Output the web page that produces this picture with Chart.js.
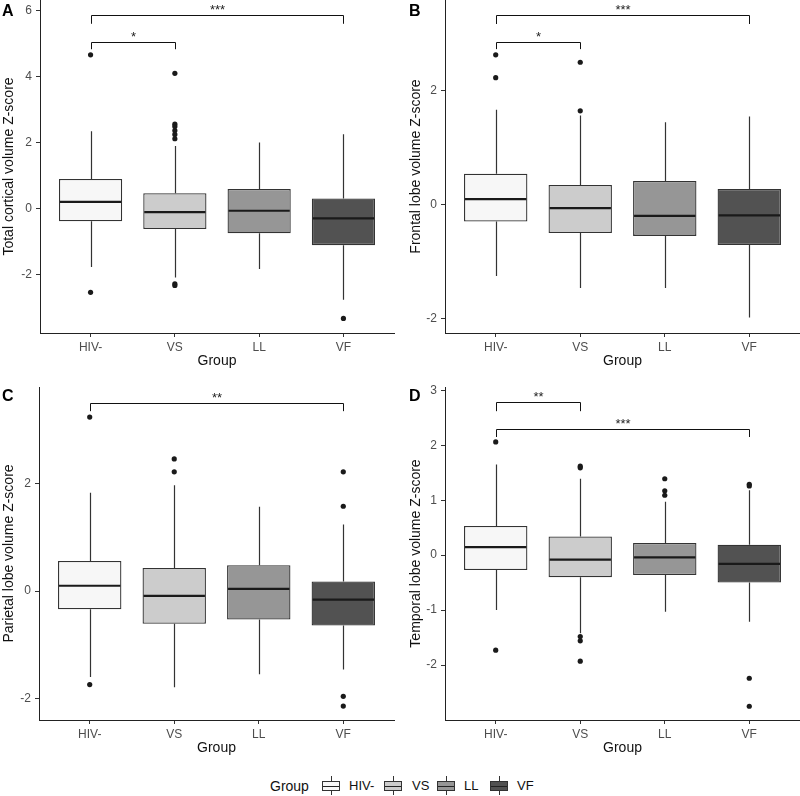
<!DOCTYPE html>
<html>
<head>
<meta charset="utf-8">
<script src="https://cdn.jsdelivr.net/npm/chart.js@4.4.1/dist/chart.umd.min.js"></script>
<style>
  body { margin: 0; background: #fff; font-family: "Liberation Sans", Arial, sans-serif; }
  #wrap { position: relative; width: 800px; height: 796px; overflow: hidden; }
  .pane { position: absolute; }
  .tag { position: absolute; font-weight: bold; font-size: 16px; line-height: 16px; color: #000; }
  .leg { position: absolute; top: 778px; font-size: 13px; line-height: 16px; color: #111; }
  .key { position: absolute; top: 776px; width: 18px; height: 19px; }
  .key .wh { position: absolute; left: 8.5px; top: 0; width: 1px; height: 19px; background: #333; }
  .key .bx { position: absolute; left: 0; top: 4.5px; width: 16px; height: 8px; border: 1px solid #333; }
  .key .md { position: absolute; left: 0; top: 4px; width: 16px; height: 1px; background: #222; }
</style>
</head>
<body>
<div id="wrap">
  <div class="pane" style="left:0;top:0;width:400px;height:370px"><canvas id="chartA"></canvas></div>
  <div class="pane" style="left:400px;top:0;width:400px;height:370px"><canvas id="chartB"></canvas></div>
  <div class="pane" style="left:0;top:370px;width:400px;height:387px"><canvas id="chartC"></canvas></div>
  <div class="pane" style="left:400px;top:370px;width:400px;height:387px"><canvas id="chartD"></canvas></div>
  <div class="tag" style="left:2px;top:3px">A</div>
  <div class="tag" style="left:409px;top:3px">B</div>
  <div class="tag" style="left:2px;top:388px">C</div>
  <div class="tag" style="left:409px;top:388px">D</div>
  <div id="legend"></div>
</div>
<script>
var groups = ['HIV-', 'VS', 'LL', 'VF'];
var fills = ['#f7f7f7', '#cccccc', '#969696', '#525252'];

// A - total cortical volume
var totalQ1 = [-0.39, -0.62, -0.75, -1.11];
var totalMed = [0.20, -0.11, -0.07, -0.30];
var totalQ3 = [0.89, 0.46, 0.59, 0.30];
var totalLow = [-1.77, -2.09, -1.83, -2.76];
var totalHigh = [2.34, 1.89, 2.00, 2.25];
var totalOut = [[4.65, -2.54], [4.09, 2.55, 2.48, 2.36, 2.24, 2.11, -2.28, -2.33], [], [-3.33]];
var totalTicks = [-2, 0, 2, 4, 6];

// B - frontal lobe
var frontQ1 = [-0.30, -0.50, -0.55, -0.71];
var frontMed = [0.093, -0.064, -0.20, -0.19];
var frontQ3 = [0.54, 0.34, 0.41, 0.27];
var frontLow = [-1.25, -1.46, -1.46, -1.98];
var frontHigh = [1.66, 1.56, 1.44, 1.54];
var frontOut = [[2.62, 2.22], [2.49, 1.64], [], []];
var frontTicks = [-2, 0, 2];

// C - parietal lobe
var parQ1 = [-0.34, -0.61, -0.53, -0.64];
var parMed = [0.10, -0.09, 0.04, -0.16];
var parQ3 = [0.56, 0.43, 0.48, 0.18];
var parLow = [-1.60, -1.79, -1.55, -1.46];
var parHigh = [1.83, 1.97, 1.57, 1.24];
var parOut = [[3.24, -1.74], [2.46, 2.22], [], [2.22, 1.58, -1.96, -2.14]];
var parTicks = [-2, 0, 2];

// D - temporal lobe
var tempQ1 = [-0.27, -0.40, -0.36, -0.50];
var tempMed = [0.145, -0.08, -0.04, -0.16];
var tempQ3 = [0.53, 0.34, 0.22, 0.19];
var tempLow = [-1.00, -1.42, -1.03, -1.21];
var tempHigh = [1.65, 1.39, 0.97, 1.18];
var tempOut = [[2.06, -1.73], [1.62, 1.59, -1.48, -1.56, -1.93], [1.39, 1.17, 1.09], [1.29, 1.26, -2.24, -2.75]];
var tempTicks = [-2, -1, 0, 1, 2, 3];

// brackets: [from, to, y, tip y, label]
var totalSig = [[1, 4, 5.86, 5.59, '***'], [1, 2, 5.05, 4.82, '*']];
var frontSig = [[1, 4, 3.32, 3.16, '***'], [1, 2, 2.85, 2.72, '*']];
var parSig = [[1, 4, 3.50, 3.35, '**']];
var tempSig = [[1, 2, 2.78, 2.62, '**'], [1, 4, 2.29, 2.15, '***']];

var FONT = '"Liberation Sans", Arial, sans-serif';

var boxPlugin = {
    id: 'boxbits',
    beforeDatasetsDraw: function(chart) {
        var p = chart.options.plugins.boxbits;
        var x = chart.scales.x, y = chart.scales.y, ctx = chart.ctx;
        ctx.save();
        ctx.strokeStyle = '#333';
        ctx.lineWidth = 1.2;
        for (var i = 0; i < groups.length; i++) {
            var px = Math.round(x.getPixelForValue(i + 1)) + 0.5;
            ctx.beginPath();
            ctx.moveTo(px, y.getPixelForValue(p.hi[i]));
            ctx.lineTo(px, y.getPixelForValue(p.q3[i]));
            ctx.moveTo(px, y.getPixelForValue(p.q1[i]));
            ctx.lineTo(px, y.getPixelForValue(p.lo[i]));
            ctx.stroke();
        }
        ctx.restore();
    },
    afterDatasetsDraw: function(chart) {
        var p = chart.options.plugins.boxbits;
        var x = chart.scales.x, y = chart.scales.y, ctx = chart.ctx;
        var half = (x.getPixelForValue(2) - x.getPixelForValue(1)) * 0.75 / 2;
        ctx.save();
        ctx.strokeStyle = '#1a1a1a';
        ctx.lineWidth = 2.2;
        for (var i = 0; i < groups.length; i++) {
            var px = x.getPixelForValue(i + 1);
            var py = y.getPixelForValue(p.med[i]);
            ctx.beginPath();
            ctx.moveTo(px - half + 1, py);
            ctx.lineTo(px + half - 1, py);
            ctx.stroke();
        }
        // significance brackets
        ctx.strokeStyle = '#111';
        ctx.lineWidth = 1;
        ctx.fillStyle = '#222';
        ctx.font = '13px ' + FONT;
        ctx.textAlign = 'center';
        ctx.textBaseline = 'alphabetic';
        p.sig.forEach(function(s) {
            var x1 = Math.round(x.getPixelForValue(s[0])) + 0.5;
            var x2 = Math.round(x.getPixelForValue(s[1])) + 0.5;
            var yb = Math.round(y.getPixelForValue(s[2])) + 0.5;
            var yt = y.getPixelForValue(s[3]);
            ctx.beginPath();
            ctx.moveTo(x1, yt);
            ctx.lineTo(x1, yb);
            ctx.lineTo(x2, yb);
            ctx.lineTo(x2, yt);
            ctx.stroke();
            ctx.fillText(s[4], (x1 + x2) / 2, yb - 2);
        });
        ctx.restore();
    }
};

function makePanel(id, title, q1, med, q3, lo, hi, out, yMin, yMax, yTicks, sig, yWidth, padTop, padRight, titlePad) {
    var outPts = [];
    out.forEach(function(vals, i) {
        vals.forEach(function(v) { outPts.push({x: i + 1, y: v}); });
    });
    var boxes = groups.map(function(g, i) { return {x: i + 1, y: [q1[i], q3[i]]}; });

    new Chart(document.getElementById(id), {
        type: 'bar',
        data: {
            datasets: [{
                type: 'scatter',
                data: outPts,
                pointRadius: 2.6,
                pointBackgroundColor: '#1a1a1a',
                pointBorderWidth: 0
            }, {
                data: boxes,
                backgroundColor: fills,
                borderColor: '#333',
                borderWidth: 1.3,
                borderSkipped: false,
                barPercentage: 0.75,
                categoryPercentage: 1,
                grouped: false
            }]
        },
        options: {
            responsive: true,
            maintainAspectRatio: false,
            animation: false,
            layout: { autoPadding: false, padding: { top: padTop, right: padRight, left: 0, bottom: 0 } },
            plugins: {
                legend: { display: false },
                tooltip: { enabled: false },
                boxbits: { q1: q1, med: med, q3: q3, lo: lo, hi: hi, sig: sig }
            },
            scales: {
                x: {
                    type: 'linear',
                    min: 0.4,
                    max: 4.6,
                    offset: false,
                    afterBuildTicks: function(s) { s.ticks = groups.map(function(g, i) { return {value: i + 1}; }); },
                    afterFit: function(s) { s.height = 37; },
                    ticks: {
                        callback: function(v) { return groups[v - 1]; },
                        color: '#4d4d4d',
                        font: { size: 12, family: FONT },
                        padding: 3,
                        maxRotation: 0,
                        autoSkip: false
                    },
                    grid: { display: true, offset: false, drawOnChartArea: false, drawTicks: true, tickLength: 4, color: '#333' },
                    border: { display: true, color: '#222', width: 1 },
                    title: { display: true, text: 'Group', color: '#111', font: { size: 14, family: FONT }, padding: { top: 0, bottom: 0 } }
                },
                y: {
                    min: yMin,
                    max: yMax,
                    afterBuildTicks: function(s) { s.ticks = yTicks.map(function(v) { return {value: v}; }); },
                    afterFit: function(s) { s.width = yWidth; s.paddingTop = 0; s.paddingBottom = 0; },
                    ticks: {
                        color: '#4d4d4d',
                        font: { size: 12, family: FONT },
                        padding: 4
                    },
                    grid: { display: true, drawOnChartArea: false, drawTicks: true, tickLength: 4, color: '#333' },
                    border: { display: true, color: '#222', width: 1 },
                    title: { display: true, text: title, color: '#111', font: { size: 14, family: FONT }, padding: { top: titlePad, bottom: 0 } }
                }
            }
        },
        plugins: [boxPlugin]
    });
}

makePanel('chartA', 'Total cortical volume Z-score', totalQ1, totalMed, totalQ3, totalLow, totalHigh, totalOut,
    -3.77, 6.31, totalTicks, totalSig, 40, 0, 6, 1);
makePanel('chartB', 'Frontal lobe volume Z-score', frontQ1, frontMed, frontQ3, frontLow, frontHigh, frontOut,
    -2.25, 3.58, frontTicks, frontSig, 45, 0, 0, 8);
makePanel('chartC', 'Parietal lobe volume Z-score', parQ1, parMed, parQ3, parLow, parHigh, parOut,
    -2.40, 3.80, parTicks, parSig, 39, 17, 6, 1);
makePanel('chartD', 'Temporal lobe volume Z-score', tempQ1, tempMed, tempQ3, tempLow, tempHigh, tempOut,
    -3.0, 3.06, tempTicks, tempSig, 45, 17, 0, 8);

// legend
var leg = document.getElementById('legend');
var legX = [322, 384, 437, 490];
var legLabelX = [349, 412, 464, 517];
leg.innerHTML = '<div class="leg" style="left:270px;font-size:14px">Group</div>';
groups.forEach(function(g, i) {
    leg.innerHTML += '<div class="key" style="left:' + legX[i] + 'px"><div class="wh"></div>' +
        '<div class="bx" style="background:' + fills[i] + '"><div class="md"></div></div></div>' +
        '<div class="leg" style="left:' + legLabelX[i] + 'px">' + g + '</div>';
});
</script>
</body>
</html>
